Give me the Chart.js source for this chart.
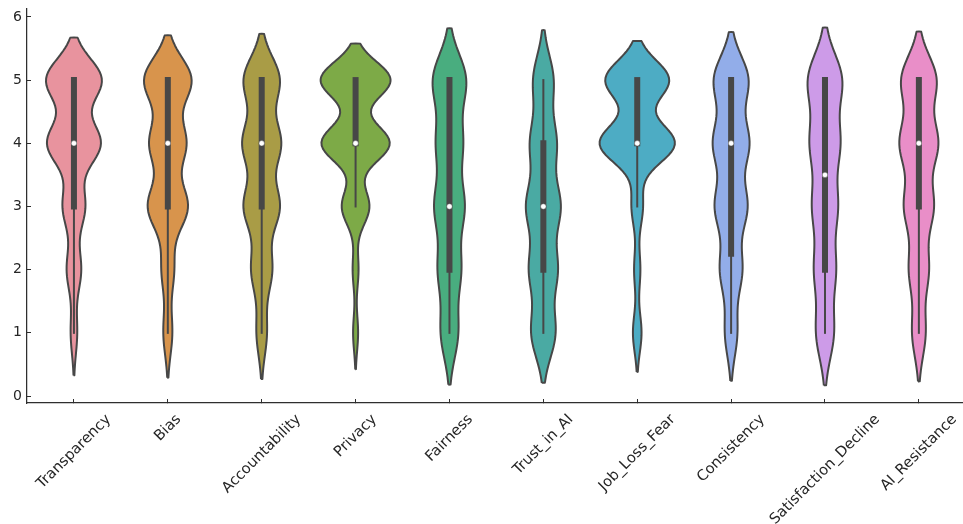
<!DOCTYPE html>
<html>
<head>
<meta charset="utf-8">
<script src="https://cdn.jsdelivr.net/npm/chart.js@4.4.1/dist/chart.umd.min.js"></script>
<style>
  html, body { margin: 0; padding: 0; background: #ffffff; }
  #wrap { width: 963px; height: 524px; }
</style>
</head>
<body>
<div id="wrap"><canvas id="chart" width="963" height="524"></canvas></div>
<script>
// Survey items shown along the x axis
const categories = ['Transparency', 'Bias', 'Accountability', 'Privacy', 'Fairness',
  'Trust_in_AI', 'Job_Loss_Fear', 'Consistency', 'Satisfaction_Decline', 'AI_Resistance'];

// Likert response levels
const levels = [1, 2, 3, 4, 5];

// Number of respondents choosing each level (1..5), per item
const transparency        = [18, 40, 62, 148, 154];
const bias                = [26, 36, 116, 106, 138];
const accountability      = [31, 62, 107, 114, 108];
const privacy             = [12, 14, 66, 163, 167];
const fairness            = [57, 74, 97, 84, 110];
const trustInAI           = [77, 89, 108, 83, 65];
const jobLossFear         = [22, 16, 29, 192, 163];
const consistency         = [38, 68, 99, 110, 107];
const satisfactionDecline = [59, 70, 82, 97, 114];
const aiResistance        = [42, 61, 91, 118, 110];

const yTicks = [0, 1, 2, 3, 4, 5, 6];

const seriesCounts = [transparency, bias, accountability, privacy, fairness,
  trustInAI, jobLossFear, consistency, satisfactionDecline, aiResistance];

const fillColors = ['#e8939e', '#d8944c', '#a99c46', '#7daa47', '#49ad7f',
  '#4aaaa3', '#4dacc4', '#92ade9', '#cd9be8', '#e98ec8'];
const gray = '#474747';
const axisColor = '#2e2e2e';
const textColor = '#262626';
const FONT = '"DejaVu Sans", "Liberation Sans", sans-serif';
const X_FONT_SIZE = 14.7;
const Y_FONT_SIZE = 14;

// ---- statistics: Gaussian KDE (Scott's rule) and box summary ----
function expand(counts) {
  const out = [];
  counts.forEach((c, k) => { for (let j = 0; j < c; j++) out.push(levels[k]); });
  return out;
}
function percentile(sorted, p) {
  const h = (sorted.length - 1) * p / 100;
  const lo = Math.floor(h), hi = Math.ceil(h);
  return sorted[lo] + (h - lo) * (sorted[hi] - sorted[lo]);
}
function violinStats(counts) {
  const data = expand(counts);
  const n = data.length;
  const mean = data.reduce((a, b) => a + b, 0) / n;
  const variance = data.reduce((a, b) => a + (b - mean) * (b - mean), 0) / (n - 1);
  const bw = Math.sqrt(variance) * Math.pow(n, -0.2);
  const dmin = data[0], dmax = data[n - 1];
  const lo = dmin - 2 * bw, hi = dmax + 2 * bw;
  const gridSize = 100;
  const ys = [], dens = [];
  const norm = 1 / (n * bw * Math.sqrt(2 * Math.PI));
  for (let g = 0; g < gridSize; g++) {
    const y = lo + (hi - lo) * g / (gridSize - 1);
    let s = 0;
    counts.forEach((c, k) => { const z = (y - levels[k]) / bw; s += c * Math.exp(-0.5 * z * z); });
    ys.push(y); dens.push(s * norm);
  }
  const q25 = percentile(data, 25), q50 = percentile(data, 50), q75 = percentile(data, 75);
  const lim = 1.5 * (q75 - q25);
  const h1 = Math.min(...data.filter(v => v >= q25 - lim));
  const h2 = Math.max(...data.filter(v => v <= q75 + lim));
  return { ys, dens, q25, q50, q75, h1, h2 };
}

const stats = seriesCounts.map(violinStats);
const maxDensity = Math.max(...stats.map(s => Math.max(...s.dens)));
const halfWidth = 0.4; // half of the violin width, in category units

const datasets = [];
stats.forEach((s, i) => {
  const scale = halfWidth / maxDensity;
  const left = s.ys.map((y, k) => ({ x: i - s.dens[k] * scale, y }));
  const right = s.ys.map((y, k) => ({ x: i + s.dens[k] * scale, y })).reverse();
  const outline = left.concat(right, [left[0]]);
  datasets.push({
    data: outline, showLine: true, fill: 'shape',
    tension: 0.02, // non-zero tension keeps the full outline path (no per-pixel merging)
    backgroundColor: fillColors[i], borderColor: gray, borderWidth: 2,
    borderJoinStyle: 'round', pointRadius: 0, order: 3
  });
  datasets.push({
    data: [{ x: i, y: s.h1 }, { x: i, y: s.h2 }], showLine: true, fill: false,
    borderColor: gray, borderWidth: 2, borderCapStyle: 'square', pointRadius: 0, order: 2
  });
  datasets.push({
    data: [{ x: i, y: s.q25 }, { x: i, y: s.q75 }], showLine: true, fill: false,
    borderColor: gray, borderWidth: 6, borderCapStyle: 'square', pointRadius: 0, order: 1
  });
  datasets.push({
    data: [{ x: i, y: s.q50 }], showLine: false,
    pointRadius: 2.7, pointBackgroundColor: '#ffffff', pointBorderColor: gray,
    pointBorderWidth: 0.4, order: 0
  });
});

// Category names: rotated 45°, centred under each tick
const categoryLabels = {
  id: 'categoryLabels',
  afterDraw(chart) {
    const ctx = chart.ctx;
    const xs = chart.scales.x;
    ctx.save();
    ctx.font = X_FONT_SIZE + 'px ' + FONT;
    ctx.fillStyle = textColor;
    ctx.textAlign = 'center';
    ctx.textBaseline = 'middle';
    const top = chart.chartArea.bottom + 8;
    const h = X_FONT_SIZE * 1.17;
    categories.forEach((label, i) => {
      const w = ctx.measureText(label).width;
      const half = (w + h) / (2 * Math.SQRT2);
      ctx.save();
      ctx.translate(xs.getPixelForValue(i), top + half);
      ctx.rotate(-Math.PI / 4);
      ctx.fillText(label, 0, 0);
      ctx.restore();
    });
    ctx.restore();
  }
};

new Chart(document.getElementById('chart'), {
  type: 'scatter',
  data: { datasets },
  plugins: [categoryLabels],
  options: {
    responsive: false,
    animation: false,
    devicePixelRatio: 1,
    layout: { autoPadding: false, padding: { top: 9, left: 0, right: 0, bottom: 0 } },
    plugins: { legend: { display: false }, tooltip: { enabled: false } },
    scales: {
      x: {
        type: 'linear', min: -0.5, max: 9.47,
        afterBuildTicks: s => { s.ticks = categories.map((_, i) => ({ value: i })); },
        afterFit: s => { s.height = 121; s.paddingLeft = 0; s.paddingRight = 0; },
        ticks: { display: false },
        // negative tick length: tick marks point into the plot
        grid: { drawOnChartArea: false, drawTicks: true, tickLength: -4, color: axisColor, lineWidth: 1 },
        border: { display: true, color: axisColor, width: 1.25 }
      },
      y: {
        type: 'linear', min: -0.11, max: 6.125,
        afterBuildTicks: s => { s.ticks = yTicks.map(v => ({ value: v })); },
        afterFit: s => { s.width = 27; s.paddingTop = 0; s.paddingBottom = 0; },
        ticks: {
          color: textColor, padding: 9,
          font: { family: FONT, size: Y_FONT_SIZE },
          callback: v => String(v)
        },
        grid: { drawOnChartArea: false, drawTicks: true, tickLength: -4, color: axisColor, lineWidth: 1 },
        border: { display: true, color: axisColor, width: 1.25 }
      }
    }
  }
});
</script>
</body>
</html>
